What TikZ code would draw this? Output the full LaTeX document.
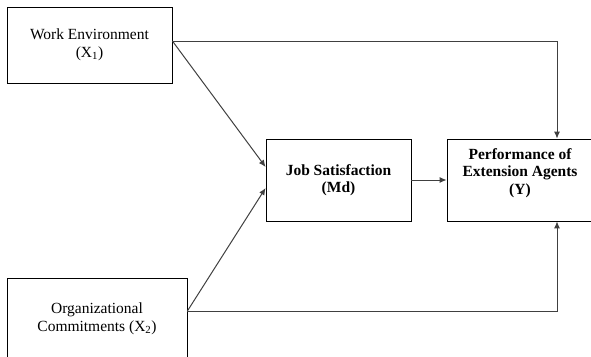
\documentclass[tikz,border=0pt]{standalone}
\usepackage{fontspec}
\setmainfont{Liberation Serif}
\usetikzlibrary{arrows.meta}

\begin{document}
\begin{tikzpicture}[x=1pt,y=-1pt, main/.style = {draw, thick, align=center, inner sep=0pt,
                    font=\fontsize{15.5}{17.5}\selectfont},
                link/.style = {->, color=black!75, line width=1pt},
                >={Latex[length=7pt,width=6pt]}]
                \clip (0,0) rectangle (591,356);
                \node[main, minimum width=165pt, minimum height=76pt] (1) at (89.5,45) {Work Environment\\(X\textsubscript{1})};
                \node[main, minimum width=180pt, minimum height=82pt] (2) at (97,319) {Organizational\\Commitments (X\textsubscript{2})};
                \node[main, minimum width=145pt, minimum height=82pt, font=\fontsize{15.5}{17.5}\selectfont\bfseries] (3) at (338.5,180) {Job Satisfaction\\(Md)};
                \node[main, minimum width=146pt, minimum height=82pt, font=\fontsize{15.5}{17.5}\selectfont\bfseries] (4) at (520,180) {Performance of\\Extension Agents\\(Y)\\\mbox{}};
                \coordinate (a) at ([yshift=4pt]1.east);
                \coordinate (b) at ([yshift=8pt]2.east);
                \path[link]
                    (a) edge ([yshift=13pt]3.west)
                    (b) edge ([yshift=-8pt]3.west)
                    (3) edge (4);
                \draw[link] (a) -| ([xshift=37pt]4.north);
                \draw[link] (b) -| ([xshift=37pt]4.south);
                \useasboundingbox (0,0) rectangle (591,356);
            \end{tikzpicture}
\end{document}
